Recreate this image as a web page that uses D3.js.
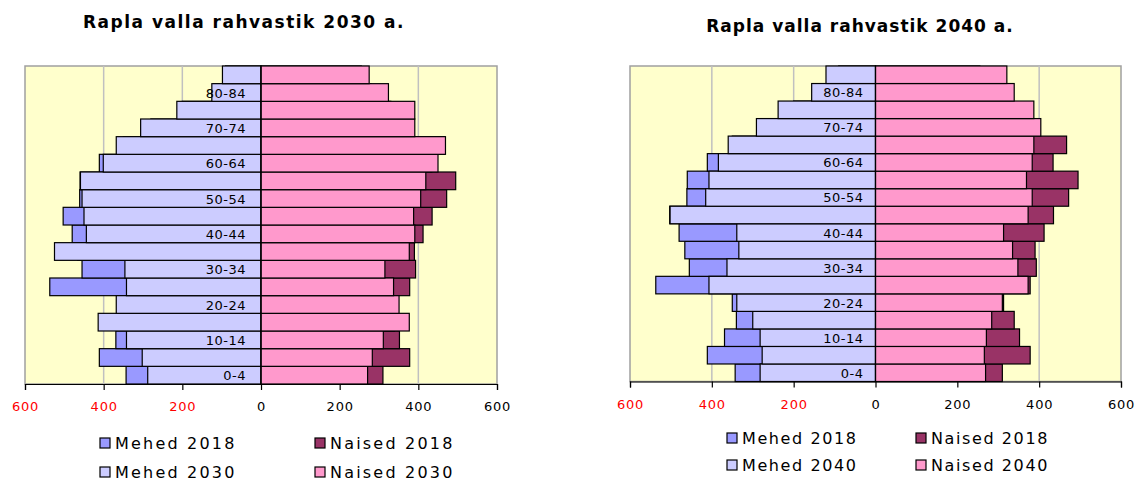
<!DOCTYPE html>
<html><head><meta charset="utf-8">
<script src="https://cdn.jsdelivr.net/npm/d3@7"></script>
<style>
html,body{margin:0;padding:0;background:#fff;}
svg{display:block;font-family:"DejaVu Sans",Verdana,sans-serif;}
</style></head>
<body>
<svg id="chart" width="1137" height="482"></svg>
<script>
const ageGroups = ["0-4","5-9","10-14","15-19","20-24","25-29","30-34","35-39","40-44","45-49","50-54","55-59","60-64","65-69","70-74","75-79","80-84","85+"];
const men2018   = [343,411,369,340,350,537,455,466,480,503,461,460,411,350,280,200,120,90];
const women2018 = [310,378,352,339,313,378,393,390,412,435,472,495,434,467,380,330,280,255];
const men2030   = [288,302,342,414,368,342,346,525,444,450,455,459,401,368,306,214,125,98];
const women2030 = [271,283,311,377,351,337,315,377,391,388,406,419,450,469,391,391,324,275];
const men2040   = [282,277,282,300,339,407,363,334,339,502,415,407,384,360,291,238,156,121];
const women2040 = [269,266,271,284,310,373,348,335,313,373,383,369,383,387,404,387,339,321];
const xTickValues = [-600,-400,-200,0,200,400,600];
const titles = ["Rapla valla rahvastik 2030  a.","Rapla valla rahvastik 2040 a."];
const legendLabels2030 = ["Mehed 2018","Naised 2018","Mehed 2030","Naised 2030"];
const legendLabels2040 = ["Mehed 2018","Naised 2018","Mehed 2040","Naised 2040"];

const C = {m18:"#9999FF", w18:"#993366", mNew:"#CCCCFF", wNew:"#FF99CC", bg:"#FFFFCC", grid:"#C0C0C0"};
const svg = d3.select("#chart");

function pyramid(cfg){
  const g = svg.append("g");
  const x = d3.scaleLinear().domain([-600,600]).range([cfg.left,cfg.right]);
  const y = d3.scaleBand().domain(ageGroups.slice().reverse()).range([cfg.top,cfg.bottom]).padding(0);
  g.append("rect").attr("x",cfg.left).attr("y",cfg.top).attr("width",cfg.right-cfg.left).attr("height",cfg.bottom-cfg.top)
    .attr("fill",C.bg).attr("stroke","#A0A0A0").attr("stroke-width",1.5);
  g.selectAll("line.grid").data(xTickValues.filter(v=>Math.abs(v)!==600 && v!==0)).join("line")
    .attr("x1",d=>x(d)).attr("x2",d=>x(d)).attr("y1",cfg.top).attr("y2",cfg.bottom)
    .attr("stroke",C.grid).attr("stroke-width",1.5);
  const series = [
    {vals:men2018, sign:-1, fill:C.m18},
    {vals:women2018, sign:1, fill:C.w18},
    {vals:cfg.men, sign:-1, fill:C.mNew},
    {vals:cfg.women, sign:1, fill:C.wNew}
  ];
  series.forEach(s=>{
    g.append("g").selectAll("rect").data(ageGroups.map((a,i)=>({a,v:s.vals[i]}))).join("rect")
      .attr("x",d=> s.sign<0 ? x(-d.v) : x(0))
      .attr("width",d=> Math.abs(x(d.v)-x(0)))
      .attr("y",d=>y(d.a)).attr("height",y.bandwidth())
      .attr("fill",s.fill).attr("stroke","#000").attr("stroke-width",1.2);
  });
  g.append("line").attr("x1",x(0)).attr("x2",x(0)).attr("y1",cfg.top).attr("y2",cfg.bottom).attr("stroke","#000").attr("stroke-width",1.2);
  g.append("g").selectAll("text").data(ageGroups.filter((a,i)=>i%2===0)).join("text")
    .attr("x",x(0)-cfg.labelGap).attr("y",d=>y(d)+y.bandwidth()/2+5)
    .attr("text-anchor","end").attr("font-size",13).attr("letter-spacing",0.5).attr("fill","#000").text(d=>d);
  const ax = g.append("g").attr("transform",`translate(0,${cfg.bottom})`)
    .call(d3.axisBottom(x).tickValues(xTickValues).tickSize(6).tickPadding(12).tickFormat(d=>Math.abs(d)));
  ax.select(".domain").attr("stroke","#000").attr("stroke-width",1.2);
  ax.selectAll(".tick line").attr("stroke","#000").attr("stroke-width",1.2);
  ax.selectAll(".tick text").attr("font-size",13).attr("letter-spacing",0.8).attr("font-family","DejaVu Sans")
    .attr("fill",d=> d<0 ? "#FF0000" : "#000");
  g.append("text").attr("x",cfg.titleX).attr("y",cfg.titleY).attr("text-anchor","middle")
    .attr("font-size",17).attr("font-weight","bold").attr("letter-spacing",cfg.titleSpacing).text(cfg.title);
  const fills = [C.m18,C.w18,C.mNew,C.wNew];
  cfg.legend.forEach((lab,i)=>{
    const col = i%2, row = Math.floor(i/2);
    const lx = cfg.legX[col], ly = cfg.legY[row];
    g.append("rect").attr("x",lx).attr("y",ly-5).attr("width",10).attr("height",10)
      .attr("fill",fills[i]).attr("stroke","#000").attr("stroke-width",1.2);
    g.append("text").attr("x",lx+15).attr("y",ly+6).attr("font-size",16).attr("letter-spacing",cfg.legSpacing).text(lab);
  });
}

pyramid({left:25,right:497,top:66,bottom:384,men:men2030,women:women2030,labelGap:15,
  title:titles[0],titleX:244,titleY:28,titleSpacing:1.5,legend:legendLabels2030,legX:[100,315],legY:[443,472],legSpacing:2.2});
pyramid({left:630,right:1121,top:66,bottom:381.5,men:men2040,women:women2040,labelGap:12,
  title:titles[1],titleX:860,titleY:31.5,titleSpacing:1.0,legend:legendLabels2040,legX:[727,916],legY:[438,465],legSpacing:1.6});
</script>
</body></html>
